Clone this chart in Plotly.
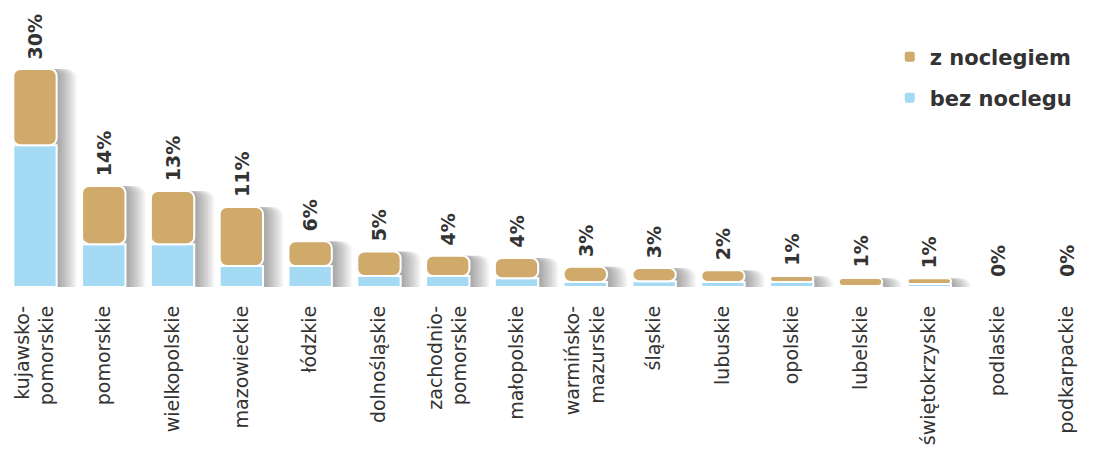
import plotly.graph_objects as go

categories = ["kujawsko-<br>pomorskie", "pomorskie", "wielkopolskie", "mazowieckie", "łódzkie",
              "dolnośląskie", "zachodnio-<br>pomorskie", "małopolskie", "warmińsko-<br>mazurskie",
              "śląskie", "lubuskie", "opolskie", "lubelskie", "świętokrzyskie", "podlaskie", "podkarpackie"]
bez_noclegu = [19.5, 5.9, 5.9, 2.9, 2.9, 1.5, 1.5, 1.2, 0.7, 0.8, 0.7, 0.7, 0.15, 0.4, 0.0, 0.0]
z_noclegiem = [10.5, 8.0, 7.3, 8.1, 3.4, 3.4, 2.8, 2.8, 2.1, 1.8, 1.6, 0.8, 1.1, 0.8, 0.0, 0.0]
labels = ["30%", "14%", "13%", "11%", "6%", "5%", "4%", "4%", "3%", "3%", "2%", "1%", "1%", "1%", "0%", "0%"]

GOLD = "#cfaa6b"
BLUE = "#a5daf5"
TEXT = "#333333"
FONT = "DejaVu Sans"
BAR_W = 0.63

x = list(range(len(categories)))
totals = [b + z for b, z in zip(bez_noclegu, z_noclegiem)]

fig = go.Figure()

# soft drop shadow built from several translucent layers of the same bars
for k in range(9):
    fig.add_trace(go.Bar(x=x, y=totals, width=BAR_W + 0.03 * (k + 1), offset=-BAR_W / 2 + 0.02,
                         marker=dict(color="rgba(30,30,30,0.05)", line=dict(width=0),
                                     cornerradius=9),
                         showlegend=False, hoverinfo="skip"))

fig.add_trace(go.Bar(x=x, y=bez_noclegu, name="bez noclegu", legend="legend2", showlegend=True,
                     width=BAR_W,
                     marker=dict(color=BLUE, line=dict(color="white", width=2), cornerradius=7)))
fig.add_trace(go.Bar(x=x, y=z_noclegiem, base=bez_noclegu, name="z noclegiem", legend="legend",
                     showlegend=True, width=BAR_W,
                     marker=dict(color=GOLD, line=dict(color="white", width=2), cornerradius=7)))

for xi, t, lab in zip(x, totals, labels):
    fig.add_annotation(x=xi, y=t, text=lab, textangle=-90, showarrow=False,
                       yanchor="bottom", yshift=8, xref="x", yref="y",
                       font=dict(family=FONT, size=19, color=TEXT, weight="bold"))

fig.update_layout(
    width=1094, height=449,
    margin=dict(l=0, r=0, t=0, b=170, autoexpand=False),
    barmode="overlay", showlegend=True,
    plot_bgcolor="white", paper_bgcolor="white",
    font=dict(family=FONT, color=TEXT),
    xaxis=dict(range=[-0.392, 15.51], tickmode="array", tickvals=x, ticktext=categories,
               tickangle=-90, showgrid=False, zeroline=False, showline=False,
               ticks="", ticklabelstandoff=14,
               tickfont=dict(family=FONT, size=19, color=TEXT)),
    yaxis=dict(range=[0, 38.4], visible=False),
    legend=dict(x=0.806, y=0.824, xanchor="left", yanchor="middle", bgcolor="rgba(0,0,0,0)",
                font=dict(family=FONT, size=21, color=TEXT, weight="bold")),
    legend2=dict(x=0.806, y=0.677, xanchor="left", yanchor="middle", bgcolor="rgba(0,0,0,0)",
                 font=dict(family=FONT, size=21, color=TEXT, weight="bold")),
)

fig.write_html("out.html")
